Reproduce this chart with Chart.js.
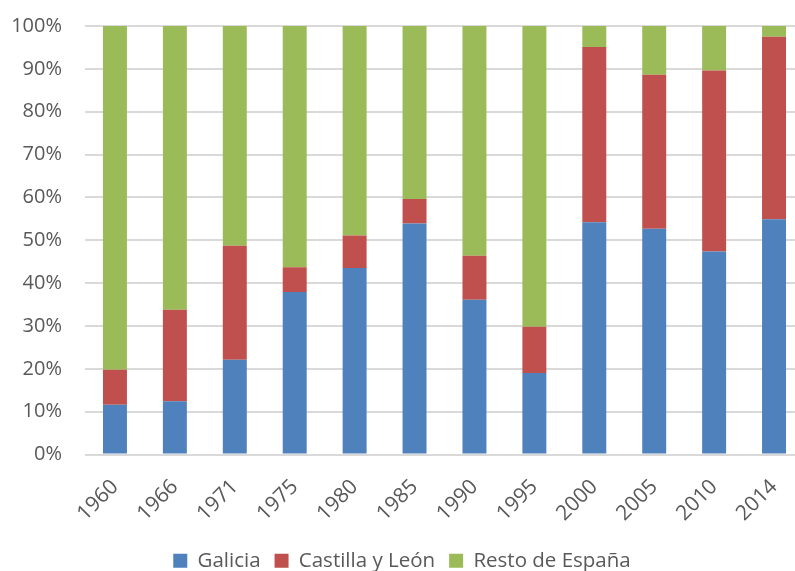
<!DOCTYPE html>
<html>
<head>
<meta charset="utf-8">
<script src="https://cdn.jsdelivr.net/npm/chart.js@4.4.1/dist/chart.umd.min.js"></script>
<style>
  html, body { margin: 0; padding: 0; background: #fff; overflow: hidden; }
  #wrap { position: absolute; left: 0; top: 0; width: 804px; height: 571px; }
</style>
</head>
<body>
<div id="wrap"><canvas id="myChart"></canvas></div>
<script>
// share of each region per year, in percent
const years = ['1960', '1966', '1971', '1975', '1980', '1985', '1990', '1995', '2000', '2005', '2010', '2014'];
const galicia = [11.6, 12.4, 22.1, 37.9, 43.5, 53.9, 36.1, 19.0, 54.2, 52.7, 47.4, 54.9];
const castillaLeon = [8.2, 21.4, 26.6, 5.8, 7.6, 5.7, 10.3, 10.8, 40.9, 35.9, 42.2, 42.6];
const restoEspana = [80.2, 66.2, 51.3, 56.3, 48.9, 40.4, 53.6, 70.2, 4.9, 11.4, 10.4, 2.5];
const yTicks = [0, 10, 20, 30, 40, 50, 60, 70, 80, 90, 100];

const textColor = '#595959';
const gridColor = '#d9d9d9';
const family = "'Open Sans', sans-serif";

const renderChart = () => {
    const ctx = document.getElementById('myChart');
    new Chart(ctx, {
        type: 'bar',
        data: {
            labels: years,
            datasets: [
                { label: 'Galicia', data: galicia, backgroundColor: '#4f81bd' },
                { label: 'Castilla y León', data: castillaLeon, backgroundColor: '#c0504d' },
                { label: 'Resto de España', data: restoEspana, backgroundColor: '#9bbb59' },
            ],
        },
        options: {
            responsive: true,
            maintainAspectRatio: false,
            animation: false,
            categoryPercentage: 1,
            barPercentage: 0.4,
            // the plot runs a little past the right edge of the page
            layout: { autoPadding: false, padding: { top: 26, right: 0, left: 0, bottom: -10 } },
            plugins: {
                tooltip: { enabled: false },
                legend: {
                    position: 'bottom',
                    labels: {
                        color: textColor,
                        font: { family: family, size: 20.5 },
                        boxWidth: 14,
                        boxHeight: 14,
                        padding: 14,
                    },
                },
            },
            scales: {
                x: {
                    stacked: true,
                    grid: { display: false },
                    border: { display: false },
                    ticks: {
                        color: textColor,
                        font: { family: family, size: 21 },
                        maxRotation: 45,
                        minRotation: 45,
                        padding: 12,
                    },
                    afterFit: (scale) => { scale.height = 82; },
                },
                y: {
                    stacked: true,
                    min: 0,
                    max: 100,
                    afterBuildTicks: (scale) => { scale.ticks = yTicks.map(v => ({ value: v })); },
                    grid: { color: gridColor, lineWidth: 2, drawTicks: false },
                    border: { display: false },
                    ticks: {
                        color: textColor,
                        font: { family: family, size: 20 },
                        padding: 23,
                        callback: (v) => v + '%',
                    },
                    afterFit: (scale) => {
                        scale.width = 85;
                        // tick padding would otherwise push the plot top down
                        scale.paddingTop = 0;
                        scale.paddingBottom = 0;
                    },
                },
            },
        },
    });
}

renderChart();
</script>
</body>
</html>
